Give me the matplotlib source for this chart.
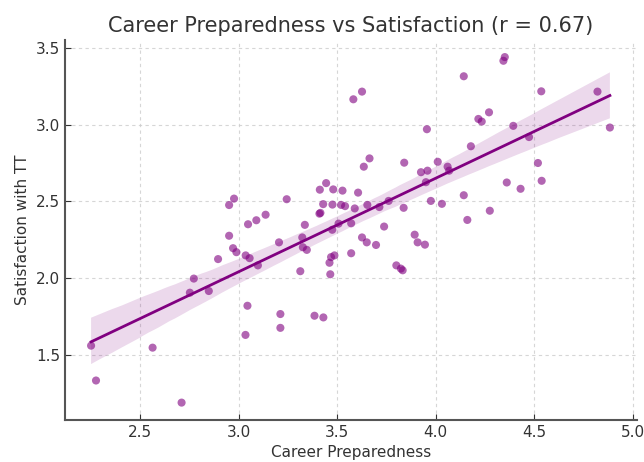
import numpy as np
import matplotlib
matplotlib.use("Agg")
import matplotlib.pyplot as plt
import seaborn as sns

# valores
career_prep = [
    2.252, 2.277, 2.564, 2.711, 2.753, 2.773, 2.849, 2.896, 2.952, 2.972,
    2.989, 3.045, 3.035, 3.036, 3.056, 3.098, 3.048, 2.952, 2.977, 3.090,
    3.137, 3.244, 3.205, 3.323, 3.326, 3.346, 3.313, 3.336, 3.212, 3.212,
    3.385, 3.430, 3.410, 3.415, 3.429, 3.412, 3.444, 3.480, 3.476, 3.527,
    3.520, 3.540, 3.606, 3.589, 3.475, 3.507, 3.461, 3.469, 3.486, 3.465,
    3.571, 3.571, 3.582, 3.626, 3.664, 3.635, 3.653, 3.626, 3.650, 3.697,
    3.714, 3.738, 3.761, 3.800, 3.823, 3.832, 3.837, 3.840, 3.893, 3.908,
    3.945, 3.925, 3.958, 3.950, 3.955, 3.975, 4.010, 4.031, 4.060, 4.068,
    4.142, 4.142, 4.160, 4.178, 4.216, 4.233, 4.270, 4.274, 4.350, 4.343,
    4.360, 4.393, 4.430, 4.473, 4.518, 4.535, 4.537, 4.820, 4.883,
]
satisfaction = [
    1.560, 1.333, 1.547, 1.189, 1.905, 1.997, 1.916, 2.124, 2.276, 2.195,
    2.169, 1.820, 1.630, 2.148, 2.130, 2.083, 2.351, 2.476, 2.518, 2.377,
    2.413, 2.514, 2.233, 2.265, 2.201, 2.184, 2.045, 2.347, 1.766, 1.676,
    1.755, 1.744, 2.420, 2.425, 2.482, 2.576, 2.619, 2.578, 2.479, 2.570,
    2.477, 2.469, 2.557, 2.454, 2.315, 2.355, 2.100, 2.137, 2.148, 2.025,
    2.162, 2.357, 3.165, 3.215, 2.780, 2.726, 2.477, 2.265, 2.233, 2.216,
    2.463, 2.336, 2.503, 2.083, 2.062, 2.051, 2.458, 2.752, 2.283, 2.233,
    2.218, 2.690, 2.700, 2.625, 2.970, 2.503, 2.758, 2.484, 2.726, 2.700,
    3.315, 2.540, 2.379, 2.859, 3.037, 3.020, 3.080, 2.439, 3.440, 3.416,
    2.623, 2.992, 2.582, 2.919, 2.750, 3.217, 2.634, 3.215, 2.981,
]

x = np.array(career_prep)
y = np.array(satisfaction)

fig = plt.figure(figsize=(6.44, 4.62), dpi=100)
ax = fig.add_axes([0.101, 0.091, 0.888, 0.822])

sns.regplot(x=x, y=y, ax=ax, color="purple", seed=0,
            scatter_kws={"alpha": 0.6, "s": 34, "edgecolor": "none"},
            line_kws={"linewidth": 2})

ax.set_xlim(2.12, 5.02)
ax.set_ylim(1.076, 3.55)
ax.set_xticks([2.5, 3.0, 3.5, 4.0, 4.5, 5.0])
ax.set_yticks([1.5, 2.0, 2.5, 3.0, 3.5])

ax.grid(True, linestyle=(0, (3, 3)), color="#cccccc", linewidth=0.8, alpha=0.8)
ax.set_axisbelow(True)
for lado in ["top", "right"]:
    ax.spines[lado].set_visible(False)
for lado in ["left", "bottom"]:
    ax.spines[lado].set_color("#555555")
    ax.spines[lado].set_linewidth(1.5)
ax.tick_params(direction="in", length=4, labelsize=11, colors="#333333")

ax.set_title("Career Preparedness vs Satisfaction (r = 0.67)",
             fontsize=15, color="#333333")
ax.set_xlabel("Career Preparedness", fontsize=11, color="#333333")
ax.set_ylabel("Satisfaction with TT", fontsize=11, color="#333333")

fig.savefig("out.png", dpi=100)
